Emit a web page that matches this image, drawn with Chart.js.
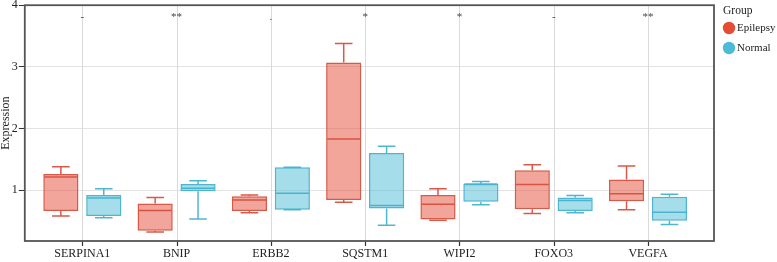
<!DOCTYPE html>
<html>
<head>
<meta charset="utf-8">
<script src="https://cdn.jsdelivr.net/npm/chart.js@4.4.1/dist/chart.umd.min.js"></script>
<style>
  html, body { margin: 0; padding: 0; background: #fff; }
</style>
</head>
<body>
<canvas id="myChart" width="777" height="262"></canvas>
<script>
const genes = ['SERPINA1', 'BNIP', 'ERBB2', 'SQSTM1', 'WIPI2', 'FOXO3', 'VEGFA']
const signif = ['-', '**', '.', '*', '*', '-', '**']

// Epilepsy box stats
const epiMin = [0.58, 0.32, 0.63, 0.80, 0.51, 0.62, 0.68]
const epiQ1  = [0.66, 0.34, 0.66, 0.84, 0.52, 0.69, 0.82]
const epiMed = [1.21, 0.67, 0.84, 1.83, 0.77, 1.09, 0.94]
const epiQ3  = [1.26, 0.78, 0.90, 3.07, 0.92, 1.32, 1.17]
const epiMax = [1.38, 0.88, 0.92, 3.38, 1.02, 1.41, 1.39]

// Normal box stats
const norMin = [0.55, 0.53, 0.68, 0.43, 0.76, 0.63, 0.44]
const norQ1  = [0.58, 0.98, 0.68, 0.70, 0.81, 0.66, 0.50]
const norMed = [0.87, 1.03, 0.95, 0.75, 1.10, 0.83, 0.64]
const norQ3  = [0.92, 1.10, 1.37, 1.60, 1.10, 0.88, 0.89]
const norMax = [1.02, 1.15, 1.37, 1.71, 1.14, 0.91, 0.93]

const yTicks = [1, 2, 3, 4]

const serif = '"Liberation Serif", "Times New Roman", serif'

const makeBoxes = (q1, q3) => genes.map((g, i) => ({ x: i, y: [q1[i], q3[i]] }))

// vertical grid, tick marks, medians, whiskers and caps, placed with the chart's own scales
const boxExtras = {
  id: 'boxExtras',
  beforeDatasetsDraw(chart) {
    const ctx = chart.ctx
    const area = chart.chartArea
    const x = chart.scales.x
    ctx.save()
    genes.forEach((g, i) => {
      const px = Math.round(x.getPixelForValue(i)) + 0.5
      ctx.lineWidth = 1
      ctx.strokeStyle = '#dadada'
      ctx.beginPath()
      ctx.moveTo(px, area.top)
      ctx.lineTo(px, area.bottom)
      ctx.stroke()
      ctx.lineWidth = 1.2
      ctx.strokeStyle = '#333'
      ctx.beginPath()
      ctx.moveTo(px, area.bottom)
      ctx.lineTo(px, area.bottom + 5)
      ctx.stroke()
    })
    ctx.restore()
  },
  afterDatasetsDraw(chart) {
    const ctx = chart.ctx
    const y = chart.scales.y
    chart.data.datasets.forEach((ds, d) => {
      const meta = chart.getDatasetMeta(d)
      meta.data.forEach((bar, i) => {
        const cx = bar.x
        const half = bar.width / 2
        const cap = bar.width / 4
        const pMed = y.getPixelForValue(ds.med[i])
        const pMin = y.getPixelForValue(ds.min[i])
        const pMax = y.getPixelForValue(ds.max[i])
        const pQ1 = y.getPixelForValue(ds.data[i].y[0])
        const pQ3 = y.getPixelForValue(ds.data[i].y[1])
        ctx.save()
        ctx.strokeStyle = ds.borderColor
        ctx.lineWidth = 1.5
        ctx.beginPath()
        ctx.moveTo(cx - half + 1, pMed)
        ctx.lineTo(cx + half - 1, pMed)
        ctx.moveTo(cx, pQ3)
        ctx.lineTo(cx, pMax)
        ctx.moveTo(cx - cap, pMax)
        ctx.lineTo(cx + cap, pMax)
        ctx.moveTo(cx, pQ1)
        ctx.lineTo(cx, pMin)
        ctx.moveTo(cx - cap, pMin)
        ctx.lineTo(cx + cap, pMin)
        ctx.stroke()
        ctx.restore()
      })
    })
  },
  afterDraw(chart) {
    const ctx = chart.ctx
    const area = chart.chartArea
    const x = chart.scales.x
    const y = chart.scales.y

    // frame
    ctx.save()
    ctx.strokeStyle = '#555'
    ctx.lineWidth = 1.8
    ctx.strokeRect(area.left, area.top, area.right - area.left, area.bottom - area.top)

    // significance marks
    ctx.fillStyle = '#444'
    ctx.font = '11px ' + serif
    ctx.textAlign = 'center'
    ctx.textBaseline = 'alphabetic'
    signif.forEach((s, i) => {
      ctx.fillText(s, x.getPixelForValue(i), y.getPixelForValue(3.76))
    })

    // legend
    ctx.textAlign = 'left'
    ctx.textBaseline = 'middle'
    ctx.font = '11.5px ' + serif
    ctx.fillStyle = '#222'
    ctx.fillText('Group', 723, 11)
    ctx.font = '11px ' + serif
    const items = [['Epilepsy', '#E64B35', 28], ['Normal', '#4DBBD5', 48]]
    items.forEach(([label, color, cy]) => {
      ctx.fillStyle = color
      ctx.beginPath()
      ctx.arc(729, cy, 6.2, 0, Math.PI * 2)
      ctx.fill()
      ctx.fillStyle = '#222'
      ctx.fillText(label, 737, cy + 0.5)
    })
    ctx.restore()
  }
}

const datasets = [
  {
    label: 'Epilepsy',
    data: makeBoxes(epiQ1, epiQ3),
    min: epiMin,
    med: epiMed,
    max: epiMax,
    backgroundColor: 'rgba(230, 75, 53, 0.5)',
    borderColor: 'rgba(214, 80, 62, 0.95)',
    borderWidth: 1.5,
    borderSkipped: false
  },
  {
    label: 'Normal',
    data: makeBoxes(norQ1, norQ3),
    min: norMin,
    med: norMed,
    max: norMax,
    backgroundColor: 'rgba(77, 187, 213, 0.5)',
    borderColor: 'rgba(70, 178, 205, 0.95)',
    borderWidth: 1.5,
    borderSkipped: false
  }
]

const config = {
  type: 'bar',
  data: { datasets: datasets },
  options: {
    responsive: false,
    animation: false,
    categoryPercentage: 0.91,
    barPercentage: 0.82,
    layout: { padding: { top: 0, right: 63, left: 0, bottom: 0 } },
    plugins: {
      legend: { display: false },
      tooltip: { enabled: false }
    },
    scales: {
      x: {
        type: 'linear',
        offset: false,
        min: -0.61,
        max: 6.7,
        afterBuildTicks: (axis) => {
          axis.ticks = genes.map((g, i) => ({ value: i }))
        },
        ticks: {
          callback: (v) => genes[v],
          color: '#222',
          padding: 2,
          maxRotation: 0,
          autoSkip: false,
          font: { family: serif, size: 12, lineHeight: 1 }
        },
        grid: { display: false, drawTicks: true, tickLength: 5 },
        border: { display: false }
      },
      y: {
        type: 'linear',
        min: 0.173,
        max: 4,
        afterBuildTicks: (axis) => {
          axis.ticks = yTicks.map((v) => ({ value: v }))
        },
        ticks: {
          color: '#222',
          padding: 1,
          font: { family: serif, size: 12, lineHeight: 0.7 }
        },
        grid: { color: '#e3e3e3', tickColor: '#333', tickLength: 6 },
        border: { display: false },
        title: {
          display: true,
          text: 'Expression',
          color: '#222',
          padding: 0,
          font: { family: serif, size: 12, lineHeight: 0.9 }
        }
      }
    }
  },
  plugins: [boxExtras]
}

const myChart = new Chart(
  document.getElementById('myChart'),
  config
)
</script>
</body>
</html>
